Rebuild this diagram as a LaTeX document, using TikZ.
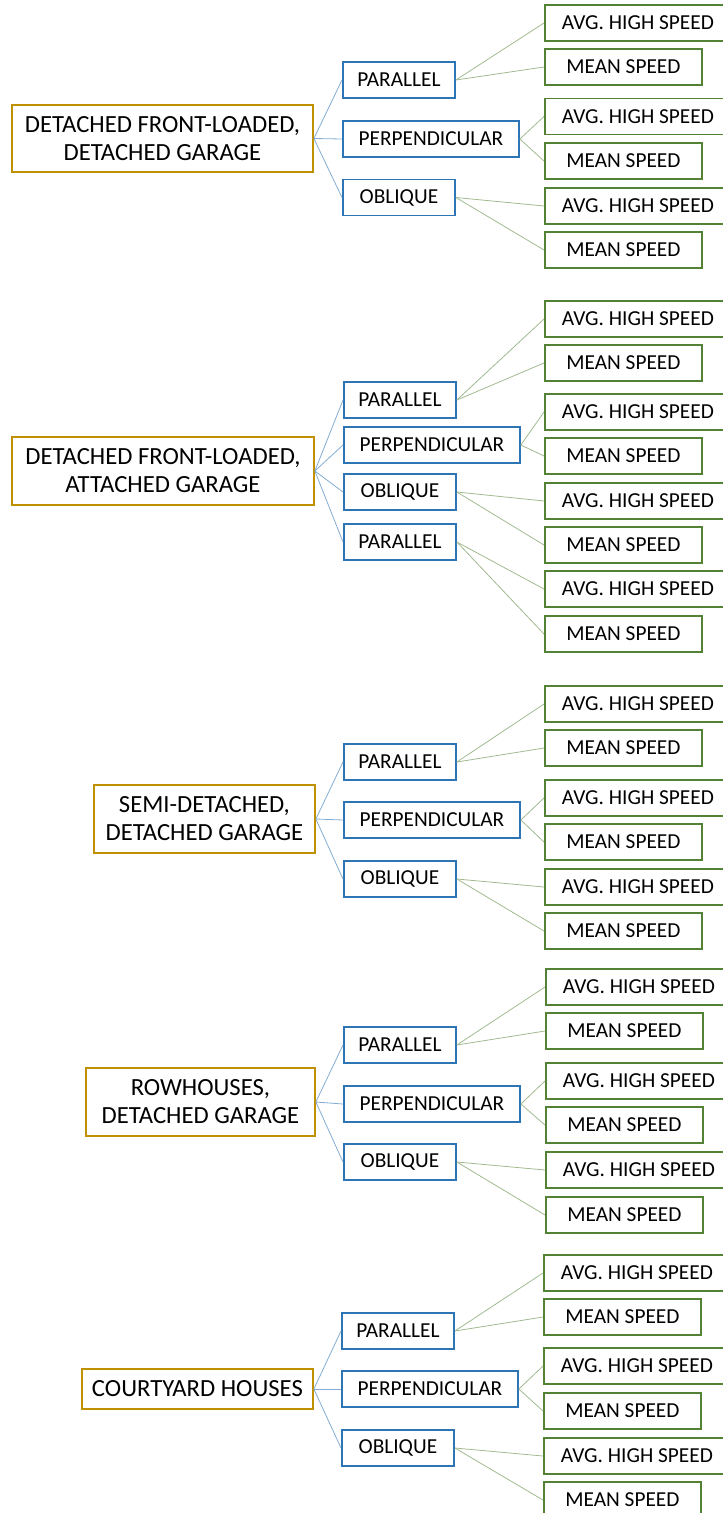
\documentclass[tikz,border=0pt]{standalone}
\usepackage{fontspec}
\setmainfont{Carlito}
\usepackage{xcolor}
\definecolor{housegold}{RGB}{191,144,0}
\definecolor{layoutblue}{RGB}{46,117,182}
\definecolor{speedgreen}{RGB}{84,130,53}

\begin{document}
\begin{tikzpicture}[
  x=0.75pt, y=-0.75pt,
  house/.style={draw=housegold, line width=1.4pt, anchor=west, align=center,
                inner sep=0pt, font=\fontsize{18.5}{21}\selectfont},
  layout/.style={draw=layoutblue, line width=1.4pt, anchor=west, inner sep=0pt,
                 minimum width=84pt, minimum height=27pt, font=\fontsize{16}{19}\selectfont},
  wide/.style={minimum width=132pt},
  speed/.style={draw=speedgreen, line width=1.4pt, anchor=west, inner sep=0pt,
                minimum width=117.75pt, minimum height=27pt, font=\fontsize{16}{19}\selectfont},
  high/.style={minimum width=139.5pt},
  link/.style={layoutblue!60, line width=0.6pt},
  sub/.style={speedgreen!55, line width=0.6pt}
]
\useasboundingbox (0,0) rectangle (723,1513);
\clip (0,0) rectangle (723,1513);

% group 1
\node[house, minimum width=225.75pt, minimum height=50.25pt] (H1) at (11,138.5) {DETACHED FRONT-LOADED,\\DETACHED GARAGE};
\node[layout] (Pa1) at (342,80) {PARALLEL};
\node[layout, wide] (Pe1) at (342,139) {PERPENDICULAR};
\node[layout] (Ob1) at (342,197.5) {OBLIQUE};
\node[speed, high] (A11) at (544,23) {AVG. HIGH SPEED};
\node[speed] (M11) at (544,67) {MEAN SPEED};
\node[speed, high] (A12) at (544,116.5) {AVG. HIGH SPEED};
\node[speed] (M12) at (544,161) {MEAN SPEED};
\node[speed, high] (A13) at (544,206) {AVG. HIGH SPEED};
\node[speed] (M13) at (544,250) {MEAN SPEED};

% group 2
\node[house, minimum width=226.5pt, minimum height=51pt] (H2) at (11,471) {DETACHED FRONT-LOADED,\\ATTACHED GARAGE};
\node[layout] (Pa2) at (343,400) {PARALLEL};
\node[layout, wide] (Pe2) at (343,445) {PERPENDICULAR};
\node[layout] (Ob2) at (343,492) {OBLIQUE};
\node[layout] (Pb2) at (343,542) {PARALLEL};
\node[speed, high] (A21) at (544,319) {AVG. HIGH SPEED};
\node[speed] (M21) at (544,363) {MEAN SPEED};
\node[speed, high] (A22) at (544,412) {AVG. HIGH SPEED};
\node[speed] (M22) at (544,456) {MEAN SPEED};
\node[speed, high] (A23) at (544,501) {AVG. HIGH SPEED};
\node[speed] (M23) at (544,545) {MEAN SPEED};
\node[speed, high] (A24) at (544,589) {AVG. HIGH SPEED};
\node[speed] (M24) at (544,634) {MEAN SPEED};

% group 3
\node[house, minimum width=165.75pt, minimum height=51pt] (H3) at (93,819) {SEMI-DETACHED,\\DETACHED GARAGE};
\node[layout] (Pa3) at (343,762) {PARALLEL};
\node[layout, wide] (Pe3) at (343,820) {PERPENDICULAR};
\node[layout] (Ob3) at (343,879) {OBLIQUE};
\node[speed, high] (A31) at (544,704) {AVG. HIGH SPEED};
\node[speed] (M31) at (544,748) {MEAN SPEED};
\node[speed, high] (A32) at (544,798) {AVG. HIGH SPEED};
\node[speed] (M32) at (544,842) {MEAN SPEED};
\node[speed, high] (A33) at (544,887) {AVG. HIGH SPEED};
\node[speed] (M33) at (544,931) {MEAN SPEED};

% group 4
\node[house, minimum width=171.75pt, minimum height=51pt] (H4) at (85,1102) {ROWHOUSES,\\DETACHED GARAGE};
\node[layout] (Pa4) at (343,1045) {PARALLEL};
\node[layout, wide] (Pe4) at (343,1104) {PERPENDICULAR};
\node[layout] (Ob4) at (343,1162) {OBLIQUE};
\node[speed, high] (A41) at (545,987) {AVG. HIGH SPEED};
\node[speed] (M41) at (545,1031) {MEAN SPEED};
\node[speed, high] (A42) at (545,1081) {AVG. HIGH SPEED};
\node[speed] (M42) at (545,1125) {MEAN SPEED};
\node[speed, high] (A43) at (545,1170) {AVG. HIGH SPEED};
\node[speed] (M43) at (545,1215) {MEAN SPEED};

% group 5
\node[house, minimum width=173.25pt, minimum height=30pt] (H5) at (81,1389) {COURTYARD HOUSES};
\node[layout] (Pa5) at (341,1331) {PARALLEL};
\node[layout, wide] (Pe5) at (341,1389) {PERPENDICULAR};
\node[layout] (Ob5) at (341,1448) {OBLIQUE};
\node[speed, high] (A51) at (543,1273) {AVG. HIGH SPEED};
\node[speed] (M51) at (543,1317) {MEAN SPEED};
\node[speed, high] (A52) at (543,1366) {AVG. HIGH SPEED};
\node[speed] (M52) at (543,1411) {MEAN SPEED};
\node[speed, high] (A53) at (543,1456) {AVG. HIGH SPEED};
\node[speed] (M53) at (543,1500) {MEAN SPEED};

% house -> layout
\draw[link] (H1.east) -- (Pa1.west);
\draw[link] (H1.east) -- (Pe1.west);
\draw[link] (H1.east) -- (Ob1.west);
\draw[link] (H2.east) -- (Pa2.west);
\draw[link] (H2.east) -- (Pe2.west);
\draw[link] (H2.east) -- (Ob2.west);
\draw[link] (H2.east) -- (Pb2.west);
\draw[link] (H3.east) -- (Pa3.west);
\draw[link] (H3.east) -- (Pe3.west);
\draw[link] (H3.east) -- (Ob3.west);
\draw[link] (H4.east) -- (Pa4.west);
\draw[link] (H4.east) -- (Pe4.west);
\draw[link] (H4.east) -- (Ob4.west);
\draw[link] (H5.east) -- (Pa5.west);
\draw[link] (H5.east) -- (Pe5.west);
\draw[link] (H5.east) -- (Ob5.west);

% layout -> speed
\draw[sub] (Pa1.east) -- (A11.west);
\draw[sub] (Pa1.east) -- (M11.west);
\draw[sub] (Pe1.east) -- (A12.west);
\draw[sub] (Pe1.east) -- (M12.west);
\draw[sub] (Ob1.east) -- (A13.west);
\draw[sub] (Ob1.east) -- (M13.west);
\draw[sub] (Pa2.east) -- (A21.west);
\draw[sub] (Pa2.east) -- (M21.west);
\draw[sub] (Pe2.east) -- (A22.west);
\draw[sub] (Pe2.east) -- (M22.west);
\draw[sub] (Ob2.east) -- (A23.west);
\draw[sub] (Ob2.east) -- (M23.west);
\draw[sub] (Pb2.east) -- (A24.west);
\draw[sub] (Pb2.east) -- (M24.west);
\draw[sub] (Pa3.east) -- (A31.west);
\draw[sub] (Pa3.east) -- (M31.west);
\draw[sub] (Pe3.east) -- (A32.west);
\draw[sub] (Pe3.east) -- (M32.west);
\draw[sub] (Ob3.east) -- (A33.west);
\draw[sub] (Ob3.east) -- (M33.west);
\draw[sub] (Pa4.east) -- (A41.west);
\draw[sub] (Pa4.east) -- (M41.west);
\draw[sub] (Pe4.east) -- (A42.west);
\draw[sub] (Pe4.east) -- (M42.west);
\draw[sub] (Ob4.east) -- (A43.west);
\draw[sub] (Ob4.east) -- (M43.west);
\draw[sub] (Pa5.east) -- (A51.west);
\draw[sub] (Pa5.east) -- (M51.west);
\draw[sub] (Pe5.east) -- (A52.west);
\draw[sub] (Pe5.east) -- (M52.west);
\draw[sub] (Ob5.east) -- (A53.west);
\draw[sub] (Ob5.east) -- (M53.west);
\end{tikzpicture}
\end{document}
